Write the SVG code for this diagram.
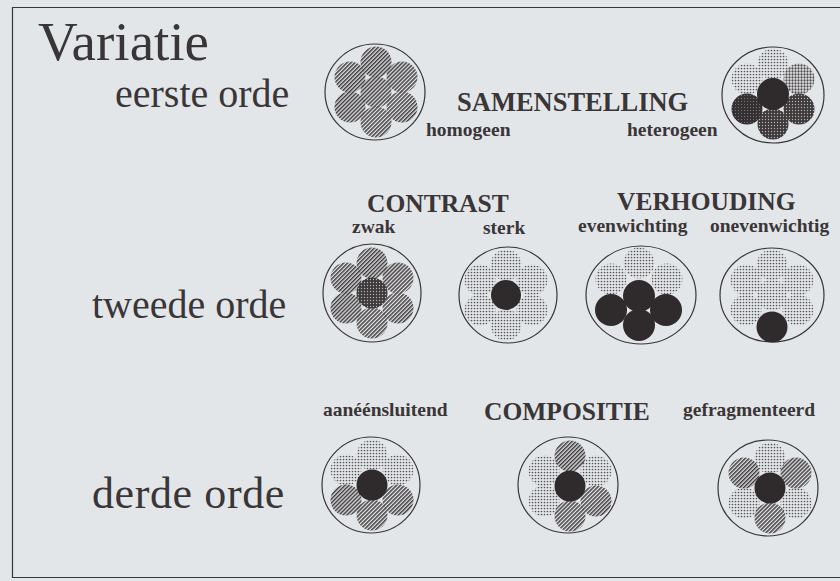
<svg xmlns="http://www.w3.org/2000/svg" width="840" height="581" viewBox="0 0 840 581">
  <style>
    .t { font-family: "Liberation Serif", "Times New Roman", serif; fill: #3a3536; }
    .big { font-size: 40px; }
    .head { font-size: 25.5px; font-weight: bold; }
    .lbl { font-size: 19.5px; font-weight: bold; }
    .ring { fill: none; stroke: #3a3536; stroke-width: 1.2; }
    .solid { fill: #2f2a2b; }
    .h { fill: url(#hatch); }
    .dl { fill: url(#dotsL); }
    .dm { fill: url(#dotsM); }
    .dd { fill: url(#dotsD); }
    .dx { fill: url(#dotsX); }
  </style>
  <defs>
    <!-- diagonal line screen -->
    <pattern id="hatch" width="2.8" height="2.8" patternUnits="userSpaceOnUse" patternTransform="rotate(45)">
      <rect width="1.5" height="2.8" fill="#413c3d"/>
    </pattern>
    <!-- fine light dot screen -->
    <pattern id="dotsL" width="3" height="3" patternUnits="userSpaceOnUse">
      <circle cx="1.5" cy="1.5" r="0.85" fill="#575253"/>
    </pattern>
    <!-- medium dot screen -->
    <pattern id="dotsM" width="3" height="3" patternUnits="userSpaceOnUse">
      <circle cx="1.5" cy="1.5" r="1.15" fill="#504b4c"/>
    </pattern>
    <!-- dark screen with light holes -->
    <pattern id="dotsD" width="3" height="3" patternUnits="userSpaceOnUse">
      <rect width="3" height="3" fill="#3e393a"/>
      <circle cx="1.5" cy="1.5" r="0.7" fill="#b5b3b5"/>
    </pattern>
    <!-- very dark screen with tiny holes -->
    <pattern id="dotsX" width="3" height="3" patternUnits="userSpaceOnUse">
      <rect width="3" height="3" fill="#353031"/>
      <circle cx="1.5" cy="1.5" r="0.5" fill="#8f8c8e"/>
    </pattern>
  </defs>

  <rect width="840" height="581" fill="#e3e6e9"/>
  <!-- page frame -->
  <path d="M845 7.5 H12.5 V577.5 H845" fill="none" stroke="#3a3536" stroke-width="1.2"/>

  <!-- row labels -->
  <g id="title"><text class="t" x="38" y="60" font-size="55">Variatie</text></g>
  <g id="row1-label"><text class="t big" x="115" y="107">eerste orde</text></g>
  <g id="row2-label"><text class="t big" x="92" y="318">tweede orde</text></g>
  <g id="row3-label"><text class="t big" x="92" y="508" style="font-size:44px;letter-spacing:0.6px">derde orde</text></g>

  <!-- category headings and labels -->
  <g id="samenstelling">
    <text class="t head" x="457" y="111" style="font-size:26.5px">SAMENSTELLING</text>
    <text class="t lbl" x="426" y="136">homogeen</text>
    <text class="t lbl" x="627" y="136">heterogeen</text>
  </g>
  <g id="contrast">
    <text class="t head" x="367" y="212">CONTRAST</text>
    <text class="t lbl" x="352" y="233">zwak</text>
    <text class="t lbl" x="483" y="234">sterk</text>
  </g>
  <g id="verhouding">
    <text class="t head" x="617" y="210">VERHOUDING</text>
    <text class="t lbl" x="578" y="232">evenwichting</text>
    <text class="t lbl" x="710" y="232">onevenwichtig</text>
  </g>
  <g id="compositie">
    <text class="t lbl" x="323" y="416">aanéénsluitend</text>
    <text class="t head" x="484" y="420">COMPOSITIE</text>
    <text class="t lbl" x="683" y="416">gefragmenteerd</text>
  </g>

  <!-- petal offsets: top (0,-30), upper-right (26,-15), lower-right (26,15),
       bottom (0,30), lower-left (-26,15), upper-left (-26,-15) -->

  <g id="homogeen">
    <ellipse class="ring" cx="375" cy="92" rx="50" ry="48"/>
    <g transform="translate(376 92)">
      <circle class="h" cx="0" cy="-30" r="15.5"/>
      <circle class="h" cx="26" cy="-15" r="15.5"/>
      <circle class="h" cx="26" cy="15" r="15.5"/>
      <circle class="h" cx="0" cy="30" r="15.5"/>
      <circle class="h" cx="-26" cy="15" r="15.5"/>
      <circle class="h" cx="-26" cy="-15" r="15.5"/>
      <circle class="h" cx="0" cy="0" r="15.5"/>
    </g>
  </g>

  <g id="heterogeen">
    <ellipse class="ring" cx="773" cy="95" rx="51" ry="48"/>
    <g transform="translate(773 94)">
      <circle class="dl" cx="0" cy="-30" r="15.5"/>
      <circle class="dm" cx="26" cy="-15" r="15.5"/>
      <circle class="dd" cx="26" cy="15" r="15.5"/>
      <circle class="dd" cx="0" cy="30" r="15.5"/>
      <circle class="dx" cx="-26" cy="15" r="15.5"/>
      <circle class="dl" cx="-26" cy="-15" r="15.5"/>
      <circle class="solid" cx="0" cy="0" r="16"/>
    </g>
  </g>

  <g id="zwak">
    <ellipse class="ring" cx="372" cy="293" rx="49" ry="49"/>
    <g transform="translate(372 293)">
      <circle class="h" cx="0" cy="-30" r="15.5"/>
      <circle class="h" cx="26" cy="-15" r="15.5"/>
      <circle class="h" cx="26" cy="15" r="15.5"/>
      <circle class="h" cx="0" cy="30" r="15.5"/>
      <circle class="h" cx="-26" cy="15" r="15.5"/>
      <circle class="h" cx="-26" cy="-15" r="15.5"/>
      <circle class="dd" cx="0" cy="0" r="15.5"/>
    </g>
  </g>

  <g id="sterk">
    <ellipse class="ring" cx="508" cy="295" rx="49" ry="48"/>
    <g transform="translate(506 295)">
      <circle class="dl" cx="0" cy="-30" r="15.5"/>
      <circle class="dl" cx="26" cy="-15" r="15.5"/>
      <circle class="dl" cx="26" cy="15" r="15.5"/>
      <circle class="dl" cx="0" cy="30" r="15.5"/>
      <circle class="dl" cx="-26" cy="15" r="15.5"/>
      <circle class="dl" cx="-26" cy="-15" r="15.5"/>
      <circle class="solid" cx="0" cy="0" r="15"/>
    </g>
  </g>

  <g id="evenwichting">
    <ellipse class="ring" cx="641" cy="295" rx="55" ry="49"/>
    <g transform="translate(639 295)">
      <circle class="dl" cx="0" cy="-32" r="15.5"/>
      <circle class="dl" cx="28" cy="-16" r="15.5"/>
      <circle class="dl" cx="-28" cy="-16" r="15.5"/>
      <circle class="solid" cx="27" cy="15" r="16"/>
      <circle class="solid" cx="-28" cy="15" r="16"/>
      <circle class="solid" cx="0" cy="30" r="16"/>
      <circle class="solid" cx="0" cy="1" r="16"/>
    </g>
  </g>

  <g id="onevenwichtig">
    <ellipse class="ring" cx="772" cy="295" rx="52" ry="47"/>
    <g transform="translate(772 295)">
      <circle class="dl" cx="0" cy="-30" r="15.5"/>
      <circle class="dl" cx="26" cy="-15" r="15.5"/>
      <circle class="dl" cx="26" cy="15" r="15.5"/>
      <circle class="dl" cx="-26" cy="15" r="15.5"/>
      <circle class="dl" cx="-26" cy="-15" r="15.5"/>
      <circle class="dl" cx="0" cy="0" r="15.5"/>
      <circle class="solid" cx="0" cy="32" r="15.5"/>
    </g>
  </g>

  <g id="aaneensluitend">
    <ellipse class="ring" cx="371" cy="485" rx="49" ry="48"/>
    <g transform="translate(372 485)">
      <circle class="dl" cx="0" cy="-30" r="15.5"/>
      <circle class="dl" cx="26" cy="-15" r="15.5"/>
      <circle class="dl" cx="-26" cy="-15" r="15.5"/>
      <circle class="h" cx="26" cy="15" r="15.5"/>
      <circle class="h" cx="0" cy="30" r="15.5"/>
      <circle class="h" cx="-26" cy="15" r="15.5"/>
      <circle class="solid" cx="0" cy="0" r="15.5"/>
    </g>
  </g>

  <g id="compositie-midden">
    <ellipse class="ring" cx="568" cy="485" rx="50" ry="48"/>
    <g transform="translate(570 486)">
      <circle class="dl" cx="26" cy="-15" r="15.5"/>
      <circle class="dl" cx="-26" cy="-15" r="15.5"/>
      <circle class="dl" cx="-26" cy="15" r="15.5"/>
      <circle class="h" cx="0" cy="-30" r="15.5"/>
      <circle class="h" cx="26" cy="15" r="15.5"/>
      <circle class="h" cx="0" cy="30" r="15.5"/>
      <circle class="solid" cx="0" cy="0" r="15.5"/>
    </g>
  </g>

  <g id="gefragmenteerd">
    <ellipse class="ring" cx="768" cy="488" rx="50" ry="48"/>
    <g transform="translate(770 488)">
      <circle class="dl" cx="0" cy="-30" r="15.5"/>
      <circle class="dl" cx="26" cy="15" r="15.5"/>
      <circle class="dl" cx="-26" cy="15" r="15.5"/>
      <circle class="h" cx="26" cy="-15" r="15.5"/>
      <circle class="h" cx="-26" cy="-15" r="15.5"/>
      <circle class="h" cx="0" cy="30" r="15.5"/>
      <circle class="solid" cx="0" cy="0" r="15.5"/>
    </g>
  </g>
</svg>
